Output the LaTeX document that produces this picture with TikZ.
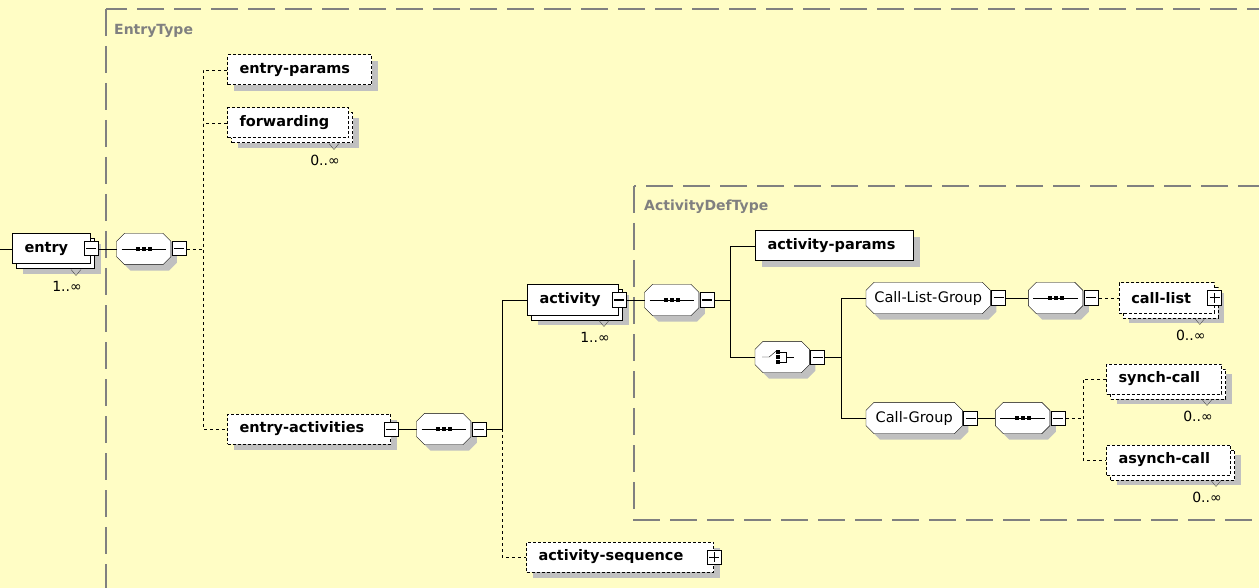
\documentclass[tikz,border=0pt]{standalone}
\usepackage{fontspec}
\setmainfont{DejaVu Sans}
\usetikzlibrary{positioning,shadows}

\definecolor{paper}{RGB}{255,253,197}
\definecolor{frame}{RGB}{128,128,128}
\definecolor{shadowgray}{RGB}{192,192,192}

\pgfdeclarelayer{back}
\pgfdeclarelayer{shapes}
\pgfsetlayers{back,shapes,main}

\tikzset{
  elem/.style={draw, fill=white, line width=1pt, inner xsep=12pt, inner ysep=2pt,
    minimum height=30pt, align=left, font=\fontsize{14.5}{17}\selectfont\bfseries},
  opt/.style={dash pattern=on 3pt off 2pt},
  single/.style={drop shadow={shadow xshift=6pt,shadow yshift=-6pt,fill=shadowgray,opacity=1}},
  multi/.style={drop shadow={shadow xshift=10pt,shadow yshift=-10pt,fill=shadowgray,opacity=1},
    copy shadow={shadow xshift=4pt,shadow yshift=-5pt,fill=white,draw=black,line width=1pt,#1}},
  multi/.default={},
  compositor/.style={rectangle, minimum width=54pt, minimum height=31pt, inner sep=0pt},
  group/.style={rectangle, minimum height=31pt, inner sep=0pt,
    font=\fontsize{14.5}{17}\selectfont},
  minus/.style={draw, fill=white, line width=1pt, minimum size=14pt, inner sep=0pt,
    path picture={\draw ([xshift=2pt]path picture bounding box.west)
      -- ([xshift=-2pt]path picture bounding box.east);}},
  plus/.style={minus, path picture={
      \draw ([xshift=2pt]path picture bounding box.west) -- ([xshift=-2pt]path picture bounding box.east);
      \draw ([yshift=-2pt]path picture bounding box.north) -- ([yshift=2pt]path picture bounding box.south);}},
  typeframe/.style={draw=frame, line width=1.4pt, dash pattern=on 27pt off 10pt},
  typelabel/.style={text=frame, inner sep=0pt, font=\fontsize{14}{16}\selectfont\bfseries},
  occurs/.style={inner sep=0pt, font=\fontsize{14}{16}\selectfont},
  optline/.style={dash pattern=on 3pt off 3pt}
}

% octagon outline of a compositor or group node
\newcommand\octopath[1]{([xshift=8pt]#1.north west) -- ([xshift=-8pt]#1.north east)
  -- ([yshift=-8pt]#1.north east) -- ([yshift=8pt]#1.south east)
  -- ([xshift=-8pt]#1.south east) -- ([xshift=8pt]#1.south west)
  -- ([yshift=8pt]#1.south west) -- ([yshift=-8pt]#1.north west) -- cycle}

\newcommand\seqmark[1]{%
  \draw ([xshift=5pt]#1.west) -- ([xshift=-5pt]#1.east);
  \foreach \dx in {-6,0,6}
    \fill ([xshift=\dx pt]#1.center) +(-2,-2) rectangle +(2,2);
}

\begin{document}
\begin{tikzpicture}[x=1pt,y=-1pt,line width=1pt]

% Canvas
\useasboundingbox (0,0) rectangle (1259,588);
\clip (0,0) rectangle (1259,588);
\begin{pgfonlayer}{back}
\fill[paper] (0,0) rectangle (1259,588);
\end{pgfonlayer}

% Type frames
\draw[typeframe] (106,9) rectangle (1300,620);
\node[typelabel, anchor=west] (entrytype) at (114,31) {EntryType};
\draw[typeframe] (634,186) rectangle (1300,520);
\node[typelabel, anchor=west] (actdeftype) at (644,207) {ActivityDefType};

% Bus lines
\coordinate (entryIn) at (0,249);
\coordinate (busA) at (203,0);
\coordinate (busB) at (502,0);
\coordinate (busC) at (730,0);
\coordinate (busD) at (841,0);
\coordinate (busE) at (1083,0);

% entry
\node[elem, multi, text width=54pt, anchor=west] (entry) at (12,249) {entry};
\node[minus] (entryM) at (entry.east) {};
\node[compositor, right=18pt of entryM] (seqA) {};
\node[minus, right=1pt of seqA] (seqAM) {};

% EntryType content
\node[elem, opt, single, text width=120pt, anchor=west] (entryparams) at (227,70) {entry-params};
\node[elem, opt, multi={opt}, text width=97pt, anchor=west] (forwarding) at (227,123) {forwarding};
\node[elem, opt, single, text width=139pt, anchor=west] (entryact) at (227,429) {entry-activities};
\node[minus] (entryactM) at (entryact.east) {};
\node[compositor, right=18pt of entryactM] (seqB) {};
\node[minus, right=1pt of seqB] (seqBM) {};

% activity
\node[elem, multi, text width=67pt, anchor=west] (activity) at (527,300) {activity};
\node[minus] (activityM) at (activity.east) {};
\node[compositor, right=18pt of activityM] (seqC) {};
\node[minus, right=1pt of seqC] (seqCM) {};
\node[elem, opt, single, text width=163pt, anchor=west] (actseq) at (526,557) {activity-sequence};
\node[plus] (actseqP) at (actseq.east) {};

% ActivityDefType content
\node[elem, single, text width=134pt, anchor=west] (actparams) at (755,246) {activity-params};
\node[compositor, anchor=west] (choice) at (755,357) {};
\node[minus, right=1pt of choice] (choiceM) {};
\node[group, minimum width=124pt, anchor=west] (clg) at (866,298) {Call-List-Group};
\node[minus, right=1pt of clg] (clgM) {};
\node[compositor, right=22pt of clgM] (seqD) {};
\node[minus, right=1pt of seqD] (seqDM) {};
\node[elem, opt, multi={opt}, text width=71pt, right=20pt of seqDM] (calllist) {call-list};
\node[plus] (calllistP) at (calllist.east) {};
\node[group, minimum width=96pt, anchor=west] (cg) at (866,418) {Call-Group};
\node[minus, right=1pt of cg] (cgM) {};
\node[compositor, right=17pt of cgM] (seqE) {};
\node[minus, right=1pt of seqE] (seqEM) {};
\node[elem, opt, multi={opt}, text width=91pt, anchor=west] (synch) at (1106,379) {synch-call};
\node[elem, opt, multi={opt}, text width=100pt, anchor=west] (asynch) at (1106,460) {asynch-call};

% Octagons behind compositors and groups
\begin{pgfonlayer}{shapes}
\foreach \o in {seqA,seqB,seqC,seqD,seqE,choice,clg,cg} {
  \fill[shadowgray, transform canvas={shift={(6pt,-6pt)}}] \octopath{\o};
  \draw[fill=white] \octopath{\o};
}
\end{pgfonlayer}

% Compositor marks
\foreach \s in {seqA,seqB,seqC,seqD,seqE} {\seqmark{\s}}
\begin{scope}[shift={(choice.center)}]
  \draw (-20,0) -- (-13,0) -- (-6,-6);
  \foreach \dy in {-5,0,5} \fill (-4,\dy) +(-1.8,-1.8) rectangle +(1.8,1.8);
  \draw (-2,-5) -- (4,-5) -- (4,5) -- (-2,5);
  \draw (4,0) -- (12,0);
\end{scope}

% Occurrences
\foreach \n/\m in {entry/1, forwarding/0, activity/1, calllist/0, synch/0, asynch/0} {
  \draw[black!70] ([xshift=-20pt,yshift=-5pt]\n.south east) -- ++(5,6) -- ++(5,-6);
  \node[occurs] (\n-occ) at ([xshift=-24pt,yshift=-22pt]\n.south east) {\m..∞};
}

% Connectors
\draw (entryIn) -- (entry.west);
\draw (entryM) -- (seqA);
\draw[optline] (seqAM) -- (seqAM -| busA);
\draw[optline] (entryparams) -| (busA |- entryact) -- (entryact);
\draw[optline] (forwarding) -- (forwarding -| busA);

\draw (entryactM) -- (seqB);
\draw (seqBM) -- (seqBM -| busB);
\draw (activity) -| (busB |- seqBM);
\draw[optline] (busB |- seqBM) |- (actseq);

\draw (activityM) -- (seqC);
\draw (seqCM) -- (seqCM -| busC);
\draw (actparams) -| (busC |- choice) -- (choice);
\draw (choiceM) -- (choiceM -| busD);
\draw (clg) -| (busD |- cg) -- (cg);

\draw (clgM) -- (seqD);
\draw[optline] (seqDM) -- (calllist);
\draw (cgM) -- (seqE);
\draw[optline] (seqEM) -- (seqEM -| busE);
\draw[optline] (synch) -| (busE |- asynch) -- (asynch);

\end{tikzpicture}
\end{document}
